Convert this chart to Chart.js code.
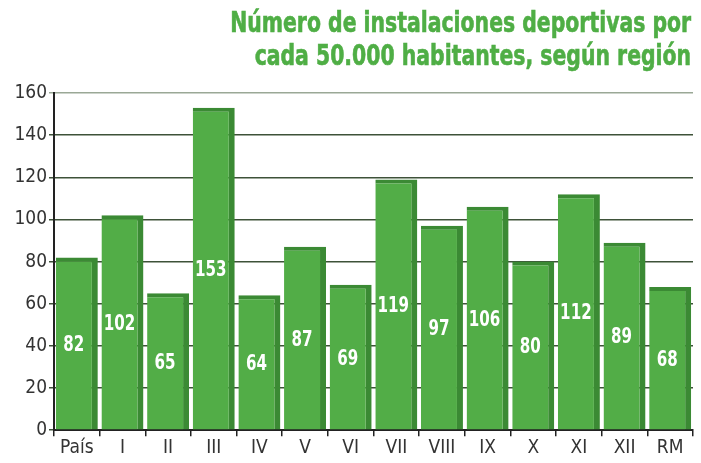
<!DOCTYPE html>
<html lang="es">
<head>
<meta charset="UTF-8">
<title>Instalaciones deportivas por región</title>
<script src="https://cdn.jsdelivr.net/npm/chart.js"></script>
<style>
  html, body { margin: 0; padding: 0; background: #fff; }
  .wrap { position: relative; width: 701px; height: 463px; }
  .title {
    position: absolute;
    right: 10px;
    top: 6px;
    text-align: right;
    color: #4fae45;
    font: bold 28px/33px 'DejaVu Sans Condensed', sans-serif;
    transform: scaleX(0.81);
    transform-origin: right top;
    white-space: nowrap;
    -webkit-text-stroke: 0.6px #4fae45;
  }
</style>
</head>
<body>
<div class="wrap">
  <canvas id="chart" width="701" height="463"></canvas>
  <div class="title" id="title"></div>
</div>
<script>
const regions = ['País', 'I', 'II', 'III', 'IV', 'V', 'VI', 'VII', 'VIII', 'IX', 'X', 'XI', 'XII', 'RM'];
const facilities = [82, 102, 65, 153, 64, 87, 69, 119, 97, 106, 80, 112, 89, 68];
const yTicks = [0, 20, 40, 60, 80, 100, 120, 140, 160];
const titleLines = ['Número de instalaciones deportivas por', 'cada 50.000 habitantes, según región'];

document.getElementById('title').innerHTML = titleLines.join('<br>');

const narrow = "'DejaVu Sans Condensed', sans-serif";

// white value labels centred inside each bar, squeezed a little to look condensed
const valueLabels = {
  id: 'valueLabels',
  afterDatasetsDraw(chart) {
    const ctx = chart.ctx;
    const meta = chart.getDatasetMeta(0);
    ctx.save();
    ctx.fillStyle = '#ffffff';
    ctx.font = 'bold 21px ' + narrow;
    ctx.textAlign = 'center';
    ctx.textBaseline = 'middle';
    meta.data.forEach((bar, i) => {
      const cx = bar.x - 3;
      const cy = (bar.y + bar.base) / 2 + 2;
      ctx.save();
      ctx.translate(cx, cy);
      ctx.scale(0.8, 1);
      ctx.fillText(String(facilities[i]), 0, 0);
      ctx.restore();
    });
    ctx.restore();
  }
};

new Chart(document.getElementById('chart'), {
  type: 'bar',
  data: {
    labels: regions,
    datasets: [{
      data: facilities,
      backgroundColor: '#52ad47',
      borderColor: '#3b8a34',
      borderWidth: { top: 4, right: 6, bottom: 0, left: 0 },
      borderSkipped: false,
      barPercentage: 0.92,
      categoryPercentage: 1
    }]
  },
  options: {
    responsive: false,
    animation: false,
    layout: { padding: { left: 0, right: 8, top: 93, bottom: 4 } },
    plugins: {
      legend: { display: false },
      tooltip: { enabled: false },
      title: { display: false }
    },
    scales: {
      x: {
        grid: { drawOnChartArea: false, offset: true, color: '#222', tickLength: 6, lineWidth: 1.5 },
        border: { color: '#222', width: 2 },
        ticks: { color: '#333', font: { family: narrow, size: 19 }, padding: 0 }
      },
      y: {
        min: 0,
        max: 160,
        afterBuildTicks(axis) { axis.ticks = yTicks.map(v => ({ value: v })); },
        afterFit(axis) { axis.width = 54; },
        grid: {
          color: ctx => ctx.tick && ctx.tick.value === 160 ? '#9aa896' : '#3e5239',
          lineWidth: 1.5,
          tickLength: 5
        },
        border: { color: '#222', width: 2 },
        ticks: { color: '#333', font: { family: narrow, size: 19 }, padding: 2 }
      }
    }
  },
  plugins: [valueLabels]
});
</script>
</body>
</html>
